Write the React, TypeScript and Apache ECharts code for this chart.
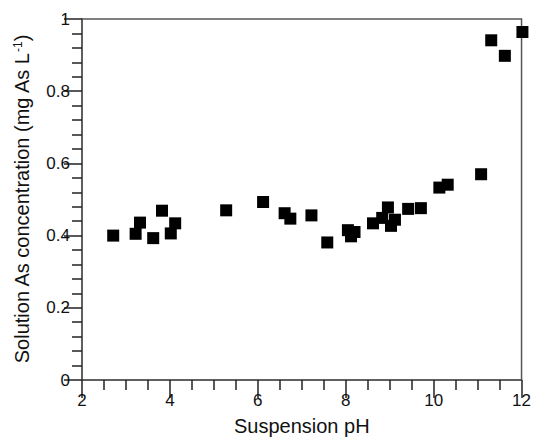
import React, { useEffect, useRef } from "react";
import * as echarts from "echarts";

const phValues = [
  2.71, 3.22, 3.32, 3.62, 3.82, 4.02, 4.12, 5.28, 6.12, 6.61, 6.74, 7.22, 7.58,
  8.05, 8.12, 8.2, 8.62, 8.83, 8.96, 9.03, 9.12, 9.42, 9.71, 10.13, 10.32,
  11.08, 11.31, 11.62, 12.02,
];
const asConc = [
  0.4, 0.405, 0.436, 0.393, 0.469, 0.406, 0.434, 0.47, 0.493, 0.462, 0.447,
  0.456, 0.381, 0.415, 0.398, 0.41, 0.434, 0.449, 0.478, 0.427, 0.444, 0.474,
  0.476, 0.533, 0.541, 0.57, 0.941, 0.898, 0.964,
];

const xName = "Suspension pH";
const yNameMain = "Solution As concentration (mg As L";
const yNameSup = "-1";

export default function App() {
  const ref = useRef<HTMLDivElement>(null);
  useEffect(() => {
    if (!ref.current) return;
    const chart = echarts.init(ref.current, null, { renderer: "svg" });
    const font = "'Liberation Sans', Arial, Helvetica, sans-serif";
    chart.setOption({
      animation: false,
      backgroundColor: "#fff",
      grid: {
        left: 82,
        right: 11.5,
        top: 19,
        bottom: 61,
        show: true,
        borderColor: "#555",
        borderWidth: 1.5,
      },
      xAxis: {
        type: "value",
        min: 2,
        max: 12,
        interval: 2,
        axisLine: { show: true, onZero: false, lineStyle: { color: "#555", width: 1.5 } },
        axisTick: { show: true, inside: false, length: 18, lineStyle: { color: "#222", width: 1.5 } },
        minorTick: { show: true, splitNumber: 4, length: 10, lineStyle: { color: "#222", width: 1.5 } },
        splitLine: { show: false },
        minorSplitLine: { show: false },
        axisLabel: { color: "#111", fontSize: 17, fontFamily: font, margin: 12 },
        name: xName,
        nameLocation: "middle",
        nameGap: 36,
        nameTextStyle: { color: "#111", fontSize: 20, fontFamily: font },
      },
      yAxis: {
        type: "value",
        min: 0,
        max: 1,
        interval: 0.2,
        axisLine: { show: true, onZero: false, lineStyle: { color: "#555", width: 1.5 } },
        axisTick: { show: true, inside: false, length: 18, lineStyle: { color: "#222", width: 1.5 } },
        minorTick: { show: true, splitNumber: 5, length: 10, lineStyle: { color: "#222", width: 1.5 } },
        splitLine: { show: false },
        minorSplitLine: { show: false },
        axisLabel: { color: "#111", fontSize: 17, fontFamily: font, margin: 12 },
        name: `{a|${yNameMain}}{s|${yNameSup}}{a|)}`,
        nameLocation: "middle",
        nameGap: 50,
        nameTextStyle: {
          color: "#111",
          fontSize: 20,
          fontFamily: font,
          rich: {
            a: { fontSize: 20, fontFamily: font, color: "#111" },
            s: { fontSize: 12, fontFamily: font, color: "#111", verticalAlign: "top", padding: [0, 0, 8, 0] },
          },
        },
      },
      series: [
        {
          type: "scatter",
          symbol: "rect",
          symbolSize: 12,
          clip: false,
          itemStyle: { color: "#000", opacity: 1 },
          data: phValues.map((x, i) => [x, asConc[i]]),
        },
      ],
    });
    return () => chart.dispose();
  }, []);
  return <div ref={ref} style={{ width: 534, height: 441, position: "absolute", left: 0, top: 0 }} />;
}
